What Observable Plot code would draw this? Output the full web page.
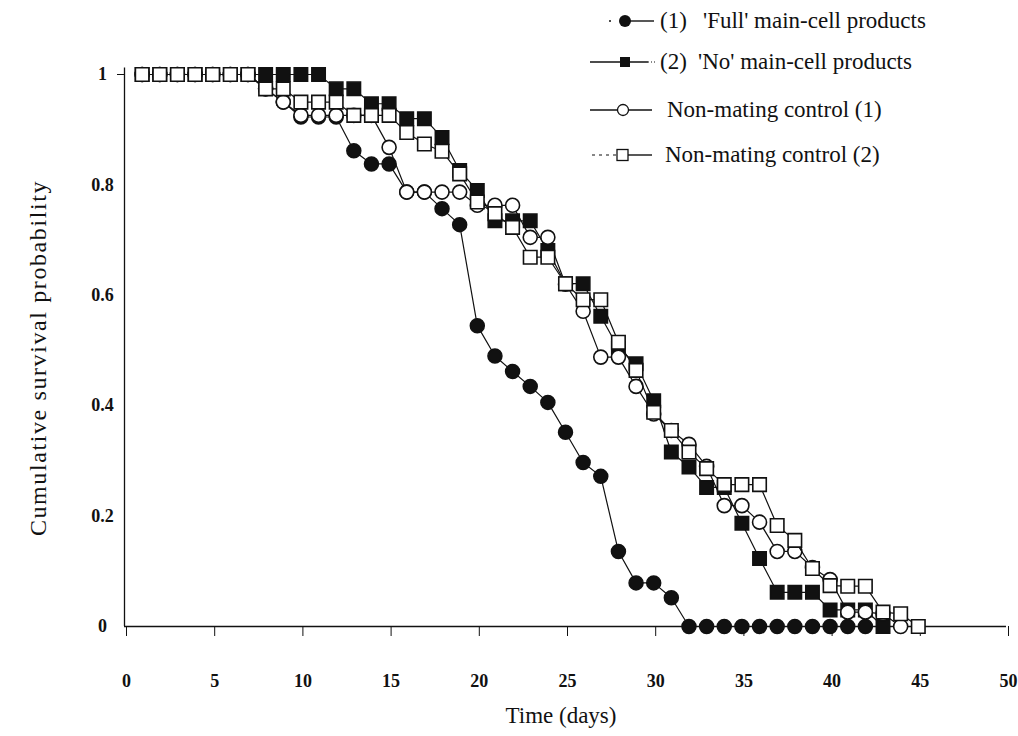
<!DOCTYPE html>
<html>
<head>
<meta charset="utf-8">
<script src="https://cdn.jsdelivr.net/npm/d3@7"></script>
<script src="https://cdn.jsdelivr.net/npm/@observablehq/plot@0.6"></script>
<style>
  html, body { margin: 0; padding: 0; background: #fff; }
  #wrap { position: relative; width: 1018px; height: 736px; font-family: "Liberation Serif", "DejaVu Serif", serif; }
  .leg { position: absolute; font-size: 23px; color: #111; white-space: pre; line-height: 1; }
</style>
</head>
<body>
<div id="wrap"></div>
<script>
// ---- Data ----
const seriesNames = ["(1)  'Full' main-cell products", "(2)  'No' main-cell products", "Non-mating control (1)", "Non-mating control (2)"];

const fullDays = d3.range(1, 43);
const fullSurv = [1,1,1,1,1,1,1,0.974,0.95,0.923,0.923,0.923,0.862,0.838,0.838,0.787,0.787,0.757,0.728,
  0.545,0.49,0.462,0.435,0.406,0.352,0.297,0.272,0.136,0.079,0.079,0.052,
  0,0,0,0,0,0,0,0,0,0,0];

const noDays = d3.range(1, 44);
const noSurv = [1,1,1,1,1,1,1,1,1,1,1,0.974,0.974,0.947,0.947,0.92,0.92,0.886,
  0.826,0.79,0.735,0.735,0.735,0.681,0.621,0.621,0.562,0.504,0.476,0.409,0.316,0.289,0.252,0.252,
  0.187,0.123,0.062,0.062,0.062,0.03,0.03,0.03,0];

const ctrl1Days = d3.range(1, 45);
const ctrl1Surv = [1,1,1,1,1,1,1,0.974,0.95,0.926,0.926,0.926,0.926,0.926,0.868,0.787,0.787,0.787,0.787,
  0.763,0.763,0.763,0.705,0.705,0.62,0.571,0.488,0.488,0.435,0.385,0.355,0.33,0.29,0.219,0.219,0.189,
  0.136,0.136,0.107,0.085,0.026,0.026,0.023,0];

const ctrl2Days = d3.range(1, 46);
const ctrl2Surv = [1,1,1,1,1,1,1,0.974,0.974,0.95,0.95,0.95,0.926,0.926,0.926,
  0.895,0.874,0.861,0.82,0.769,0.748,0.723,0.669,0.669,0.621,
  0.592,0.592,0.515,0.464,0.388,0.355,0.316,0.286,0.257,0.257,
  0.257,0.183,0.156,0.105,0.074,0.073,0.073,0.026,0.023,0];

const xTicks = [0,5,10,15,20,25,30,35,40,45,50];
const yTicks = [0,0.2,0.4,0.6,0.8,1];
const xTitle = "Time (days)";
const yTitle = "Cumulative survival probability";

// ---- Build tables ----
const toRows = (days, surv) => days.map((d, i) => ({day: d, s: surv[i]}));
const full = toRows(fullDays, fullSurv);
const no = toRows(noDays, noSurv);
const c1 = toRows(ctrl1Days, ctrl1Surv);
const c2 = toRows(ctrl2Days, ctrl2Surv);

const FONT = "Liberation Serif";
const lineW = 1.2;

const plot = Plot.plot({
  width: 1018,
  height: 736,
  marginLeft: 124,
  marginRight: 12,
  marginTop: 74,
  marginBottom: 110,
  style: {fontFamily: FONT, background: "#fff", color: "#111"},
  x: {domain: [0, 50]},
  y: {domain: [0, 1]},
  marks: [
    Plot.ruleY([0], {stroke: "#111", strokeWidth: 1.3}),
    Plot.ruleX([0], {y1: 0, y2: 1.012, stroke: "#111", strokeWidth: 1.3}),
    Plot.axisX({ticks: xTicks, tickSize: 10, tickPadding: 38, label: null, fontSize: 18, fontWeight: "bold",
      dx: 2, style: {letterSpacing: "4px"}, stroke: "#111"}),
    Plot.axisY({ticks: yTicks, tickSize: 0, tickPadding: 22, textAnchor: "middle", label: null, fontSize: 18,
      fontWeight: "bold", style: {letterSpacing: "4px"},
      tickFormat: d => d === 0 ? "0" : d === 1 ? "1" : d.toFixed(1)}),
    Plot.axisY({ticks: [1], tickSize: 7, tickFormat: () => "", label: null}),
    // (1) Full main-cell products: filled circles
    Plot.line(full, {x: "day", y: "s", stroke: "#111", strokeWidth: lineW}),
    Plot.dot(full, {x: "day", y: "s", symbol: "circle", r: 7, fill: "#111", stroke: "#111"}),
    // (2) No main-cell products: filled squares
    Plot.line(no, {x: "day", y: "s", stroke: "#111", strokeWidth: lineW}),
    Plot.dot(no, {x: "day", y: "s", symbol: "square", r: 7.6, fill: "#111", stroke: "#111"}),
    // Non-mating control (1): open circles
    Plot.line(c1, {x: "day", y: "s", stroke: "#111", strokeWidth: lineW}),
    Plot.dot(c1, {x: "day", y: "s", symbol: "circle", r: 7, fill: "#fff", stroke: "#111", strokeWidth: 1.6}),
    // Non-mating control (2): open squares
    Plot.line(c2, {x: "day", y: "s", stroke: "#111", strokeWidth: lineW}),
    Plot.dot(c2, {x: "day", y: "s", symbol: "square", r: 7.6, fill: "#fff", stroke: "#111", strokeWidth: 1.6})
  ]
});

const wrap = document.getElementById("wrap");
wrap.appendChild(plot);

// Axis titles
const svg = d3.select(plot);
svg.append("text").attr("x", 561).attr("y", 718).attr("text-anchor", "middle").attr("dominant-baseline", "middle")
  .attr("font-family", FONT).attr("font-size", 23).attr("fill", "#111").text(xTitle);
svg.append("text").attr("transform", "translate(40,358) rotate(-90)").attr("text-anchor", "middle")
  .attr("dominant-baseline", "middle").attr("font-family", FONT).attr("font-size", 24)
  .attr("letter-spacing", "1.6px").attr("fill", "#111").text(yTitle);

// Legend (HTML overlay, top right)
const legRows = [
  {y: 21, kind: "fullCircle", labelA: "(1)", labelB: "'Full' main-cell products", xb: 703, xa: 660},
  {y: 62, kind: "fullSquare", labelA: "(2)", labelB: "'No' main-cell products", xb: 698, xa: 660},
  {y: 110, kind: "openCircle", labelA: "", labelB: seriesNames[2], xb: 667, xa: 667},
  {y: 155, kind: "openSquare", labelA: "", labelB: seriesNames[3], xb: 665, xa: 665}
];
legRows.forEach(r => {
  const sw = d3.select(wrap).append("svg").style("position", "absolute")
    .style("left", "586px").style("top", (r.y - 10) + "px").attr("width", 72).attr("height", 20);
  const cy = 10;
  if (r.kind === "fullCircle") {
    sw.append("circle").attr("cx", 24).attr("cy", cy).attr("r", 1).attr("fill", "#111");
    sw.append("line").attr("x1", 40).attr("x2", 68).attr("y1", cy).attr("y2", cy).attr("stroke", "#111").attr("stroke-width", 1.4);
    sw.append("circle").attr("cx", 39).attr("cy", cy).attr("r", 6).attr("fill", "#111");
  } else if (r.kind === "fullSquare") {
    sw.append("line").attr("x1", 4).attr("x2", 62).attr("y1", cy).attr("y2", cy).attr("stroke", "#111").attr("stroke-width", 1.4);
    sw.append("line").attr("x1", 62).attr("x2", 70).attr("y1", cy).attr("y2", cy).attr("stroke", "#111").attr("stroke-width", 1).attr("stroke-dasharray", "1,2");
    sw.append("rect").attr("x", 34).attr("y", cy - 5).attr("width", 10).attr("height", 10).attr("fill", "#111");
  } else if (r.kind === "openCircle") {
    sw.append("line").attr("x1", 4).attr("x2", 66).attr("y1", cy).attr("y2", cy).attr("stroke", "#111").attr("stroke-width", 1.4);
    sw.append("circle").attr("cx", 37).attr("cy", cy).attr("r", 5.5).attr("fill", "#fff").attr("stroke", "#111").attr("stroke-width", 1.3);
  } else {
    sw.append("line").attr("x1", 6).attr("x2", 30).attr("y1", cy).attr("y2", cy).attr("stroke", "#111").attr("stroke-width", 1.1).attr("stroke-dasharray", "3,4");
    sw.append("line").attr("x1", 42).attr("x2", 66).attr("y1", cy).attr("y2", cy).attr("stroke", "#111").attr("stroke-width", 1.4);
    sw.append("rect").attr("x", 31).attr("y", cy - 5.5).attr("width", 11).attr("height", 11).attr("fill", "#fff").attr("stroke", "#111").attr("stroke-width", 1.3);
  }
  if (r.labelA) {
    d3.select(wrap).append("div").attr("class", "leg").style("left", r.xa + "px").style("top", (r.y - 12) + "px").text(r.labelA);
  }
  d3.select(wrap).append("div").attr("class", "leg").style("left", r.xb + "px").style("top", (r.y - 12) + "px").text(r.labelB);
});
</script>
</body>
</html>
